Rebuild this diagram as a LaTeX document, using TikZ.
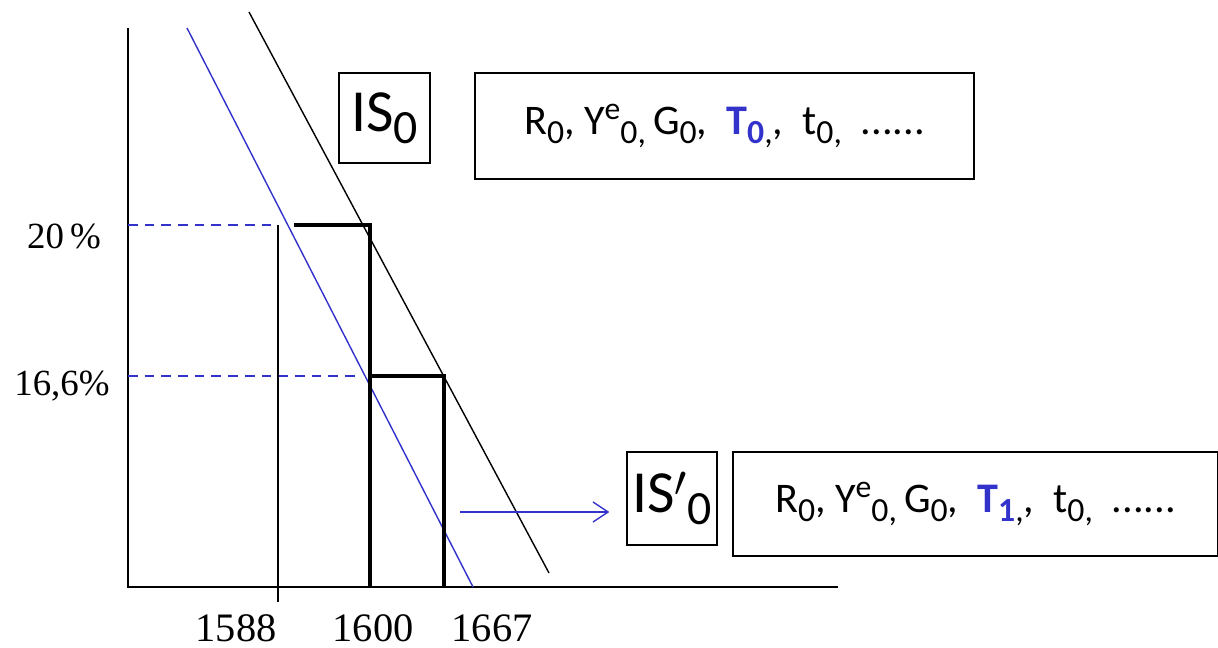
\documentclass[tikz,border=0pt]{standalone}
\usepackage{fontspec}
\setmainfont{Carlito}
\newfontfamily\tms{Liberation Serif}
\usepackage{xcolor}
\usepackage{graphicx}
\usepackage{tikz}
\usetikzlibrary{arrows.meta,calc,positioning}
\definecolor{isblue}{RGB}{51,51,204}
\newcommand{\lo}[1]{\raisebox{-0.42ex}{\scalebox{0.8}{#1}}}
\newcommand{\hi}[1]{\raisebox{0.75ex}{\scalebox{0.75}{#1}}}
\begin{document}
\begin{tikzpicture}[x=0.02cm,y=-0.02cm,
  axis/.style={line width=1.7pt},
  bar/.style={line width=1.8pt},
  guide/.style={line width=1.1pt},
  rateline/.style={isblue,line width=0.8pt,dash pattern=on 5.5pt off 4pt},
  curveis/.style={line width=0.8pt},
  curveisb/.style={line width=0.8pt,isblue},
  labbox/.style={draw,line width=0.8pt,inner sep=0pt},
  tick/.style={font=\tms\fontsize{23}{23}\selectfont},
  rate/.style={font=\tms\fontsize{21}{21}\selectfont}]
\useasboundingbox (0,0) rectangle (1218,648);
% axes
\coordinate (O) at (128,587);
\coordinate (Ytop) at (128,28);
\coordinate (Xend) at (838,587);
\draw[axis] (Ytop) -- (O) -- (Xend);
% IS curves
\coordinate (A0) at (249,12);
\coordinate (A1) at (549,573);
\coordinate (B0) at (187,28);
\coordinate (B1) at (473,587);
\draw[curveis] (A0) -- (A1);
\draw[curveisb] (B0) -- (B1);
% guides
\coordinate (r20) at (128,225);
\coordinate (r16) at (128,376);
\draw[rateline] (r20) -- (278,225);
\draw[rateline] (r16) -- (355,376);
\draw[guide] (278,225) -- (278,602);
\draw[bar] (294,225) -- (370,225) -- (370,587);
\draw[bar] (370,376) -- (444,376) -- (444,587);
% labels
\node[rate] (l20) at (64,236) {20\,\%};
\node[rate] (l16) at (62,386) {16,6\%};
\node[tick] (x1) at (236,628) {1588};
\node[tick] (x2) at (373,628) {1600};
\node[tick] (x3) at (492,628) {1667};
% boxes
\node[labbox,minimum width=1.82cm,minimum height=1.8cm,font=\fontsize{34}{34}\selectfont] (is0) at (384.5,118) {IS\lo{0}};
\node[labbox,minimum width=9.98cm,minimum height=2.12cm,font=\fontsize{24}{24}\selectfont] (set0) at (724.5,126)
  {R\lo{0}, Y\hi{e}\lo{0,}\,G\lo{0}, \ \textcolor{isblue}{\bfseries T\lo{0}}\lo{,}, \ t\lo{0,} \ ......};
\node[labbox,minimum width=1.8cm,minimum height=1.86cm,font=\fontsize{34}{34}\selectfont] (is1) at (672,498.5) {IS$'$\lo{0}};
\node[labbox,minimum width=9.7cm,minimum height=2.08cm,font=\fontsize{24}{24}\selectfont] (set1) at (975.5,504)
  {R\lo{0}, Y\hi{e}\lo{0,}\,G\lo{0}, \ \textcolor{isblue}{\bfseries T\lo{1}}\lo{,}, \ t\lo{0,} \ ......};
% shift arrow
\coordinate (s) at (460,512);
\draw[isblue,line width=0.8pt,-{Straight Barb[length=3mm,width=4mm]},shorten >=0.34cm] (s) -- (s -| is1.west);
\end{tikzpicture}
\end{document}
